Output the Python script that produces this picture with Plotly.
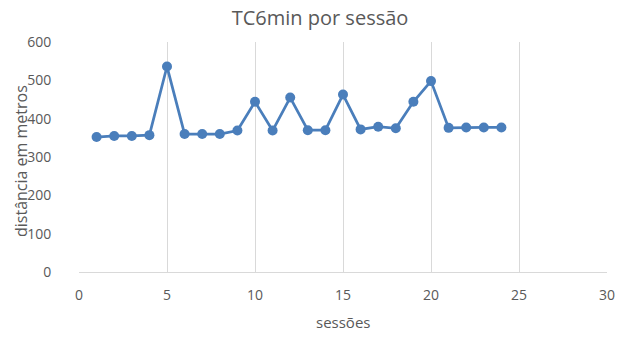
import plotly.graph_objects as go

sessoes = list(range(1, 25))
distancia = [352, 355, 355, 357, 536, 360, 360, 360, 369, 444,
             369, 455, 370, 370, 463, 372, 379, 375, 444, 498,
             376, 377, 377, 377]

x_ticks = [0, 5, 10, 15, 20, 25, 30]
y_ticks = [0, 100, 200, 300, 400, 500, 600]

FONT = "Open Sans, Liberation Sans, sans-serif"
GREY = "#595959"
BLUE = "#4A7EBB"

L, R, T, B = 79, 33, 42, 66
PW, PH = 640 - L - R, 338 - T - B

fig = go.Figure()
fig.add_trace(go.Scatter(
    x=sessoes, y=distancia, mode="lines+markers",
    line=dict(color=BLUE, width=2.75),
    marker=dict(color=BLUE, size=10),
    showlegend=False,
))

fig.update_layout(
    width=640, height=338,
    margin=dict(l=L, r=R, t=T, b=B, autoexpand=False),
    paper_bgcolor="white", plot_bgcolor="white",
    font=dict(family=FONT, color=GREY, size=14),
    title=dict(text="TC6min por sessão", x=0.5, xanchor="center",
               y=0.948, yanchor="middle",
               font=dict(size=20, color=GREY, family=FONT)),
    annotations=[
        dict(text="sessões", xref="paper", yref="paper",
             x=0.5, y=(PH - (322 - T)) / PH, xanchor="center", yanchor="middle",
             showarrow=False, font=dict(size=15, color=GREY)),
        dict(text="distância em metros", xref="paper", yref="paper",
             x=(21 - L) / PW, y=0.5 - 4 / PH, xanchor="center", yanchor="middle",
             textangle=-90, showarrow=False, font=dict(size=16, color=GREY)),
    ],
)

fig.update_xaxes(
    range=[0, 30], tickvals=x_ticks, ticktext=[str(v) for v in x_ticks],
    showgrid=True, gridcolor="#D9D9D9", gridwidth=1,
    showline=True, linecolor="#D9D9D9", linewidth=1,
    zeroline=False, automargin=False,
    ticks="outside", ticklen=10, tickcolor="rgba(0,0,0,0)",
    tickfont=dict(size=14, color=GREY),
)
fig.update_yaxes(
    range=[0, 600], tickvals=y_ticks, ticktext=[str(v) for v in y_ticks],
    showgrid=False, showline=False, zeroline=False, automargin=False,
    ticks="outside", ticklen=24, tickcolor="rgba(0,0,0,0)",
    tickfont=dict(size=14, color=GREY),
)

fig.write_html("out.html")
